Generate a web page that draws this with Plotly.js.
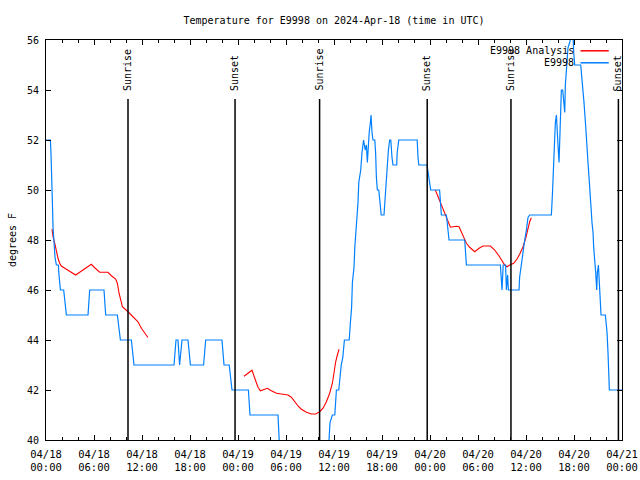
<!DOCTYPE html>
<html>
<head>
<meta charset="utf-8">
<script src="https://cdn.plot.ly/plotly-3.0.1.min.js"></script>
<style>html,body{margin:0;padding:0;background:#fff;}#chart{width:640px;height:480px;}</style>
</head>
<body>
<div id="chart"></div>
<script>
// Time axis: hours since 2024-04-18 00:00 UTC
var tickHours = [0, 6, 12, 18, 24, 30, 36, 42, 48, 54, 60, 66, 72];
var tickLabels = ['04/18<br>00:00','04/18<br>06:00','04/18<br>12:00','04/18<br>18:00',
                  '04/19<br>00:00','04/19<br>06:00','04/19<br>12:00','04/19<br>18:00',
                  '04/20<br>00:00','04/20<br>06:00','04/20<br>12:00','04/20<br>18:00',
                  '04/21<br>00:00'];

// Observed temperature E9998 (degrees F)
var obsHours = [0,0.55,0.62,0.67,0.8,0.88,1.0,1.13,1.3,1.55,1.6,1.8,2.21,2.42,2.55,5.25,5.46,7.25,7.46,8.92,9.09,9.3,10.67,10.88,11.0,
  16.0,16.25,16.5,16.7,17.0,17.75,18.05,19.7,19.96,22.0,22.25,22.9,23.25,25.3,25.5,29.0,29.3,32,35.2,35.5,35.79,36.1,36.3,36.6,36.9,
  37.1,37.3,37.9,38.05,38.2,38.3,38.5,38.6,38.8,39.0,39.1,39.34,39.5,39.7,39.9,40.05,40.17,40.25,40.4,40.55,40.63,40.75,40.87,41.1,
  41.2,41.3,41.42,41.6,41.71,41.84,41.9,42.25,42.38,42.46,42.6,42.8,42.96,43.1,43.25,43.37,43.84,43.9,44.1,46.4,46.5,46.6,47.63,
  47.75,47.96,48.09,49.2,49.34,49.42,50.05,50.17,50.38,52.34,52.42,52.55,56.8,57.0,57.15,57.45,57.55,57.7,57.8,59.13,59.2,59.42,
  59.63,59.84,60.05,60.25,60.46,63.17,63.3,63.38,63.46,63.55,63.67,63.8,63.88,64.0,64.13,64.21,64.3,64.42,64.59,64.71,64.84,64.92,
  65.05,65.25,65.46,65.67,65.85,65.96,66.09,66.84,67.05,67.25,67.45,67.63,67.75,67.9,68.0,68.13,68.25,68.38,68.46,68.59,68.71,68.84,
  68.92,69.05,69.13,69.25,69.38,69.92,70.05,70.13,70.25,70.34,70.42,72];
var obsTemp = [52,52,51.5,50.5,49.5,48.5,47.8,47.3,47,47,46.7,46,46,45.5,45,45,46,46,45,45,44.5,44,44,43.3,43,
  43,44,44,43,44,44,43,43,44,44,43,43,42,42,41,41,39,38,39,40.7,41,41,42,42,43,
  43.3,44,44,44.7,45.3,46.3,46.9,47.7,48.5,49.5,50.3,50.8,51.5,52,51.6,51.8,51.1,51.6,52.3,52.7,53,52.3,52,52,
  51.5,50.5,50,50,49.7,49.3,49,49,49.6,50.3,50.8,51.6,52,52,51.3,51,51,51.5,52,52,51.3,51,51,
  50.7,50.4,50,50,49.3,49,49,48.7,48,48,47.6,47,47,46,47,47,46,46.6,46,46,46.5,47.1,
  47.6,48,48.4,48.9,49,49,49.8,50.5,51.4,52.3,52.7,53,52.3,51.8,51.1,52.1,53.3,54,54,53.5,53.1,54.2,
  55,55.7,55.9,56.3,56.5,55.5,55,55,54.3,53.5,52.6,51.9,51.1,50.4,49.7,49.3,48.7,48.3,47.7,47.3,46.7,46,
  46.7,47,46.5,45.5,45,45,44.7,44.3,43.5,42.5,42,42];

// Analysis E9998 (degrees F), null = gap
var anaHours = [0.75,0.88,1.09,1.3,1.5,1.71,1.92,2.55,3.17,3.71,4.21,5.05,5.67,6.09,6.71,7.75,8.17,8.71,8.92,9.13,9.34,9.55,10.25,10.88,11.5,11.92,12.34,12.75,
  18.0,
  24.75,25.25,25.75,26.17,26.5,26.8,27.21,27.67,28.17,28.8,29.63,30.25,30.67,31.09,31.5,31.92,32.55,33.17,33.71,34.21,34.63,35.05,35.46,35.8,36.0,36.21,36.42,36.63,
  42.0,
  48.67,49.0,49.34,49.71,50.05,50.25,50.55,50.88,51.3,51.63,51.92,52.21,52.55,52.96,53.59,54.13,54.63,55.55,56.09,56.63,57.05,57.34,57.63,57.96,58.46,58.88,59.21,59.63,59.96,60.25,60.46,60.67];
var anaTemp = [48.44,48.13,47.87,47.53,47.27,47.07,46.96,46.83,46.69,46.6,46.71,46.89,47.03,46.89,46.71,46.71,46.57,46.44,46.27,45.87,45.53,45.33,45.13,44.93,44.73,44.47,44.27,44.1,
  null,
  42.55,42.67,42.79,42.4,42.11,41.97,42.03,42.07,41.97,41.87,41.83,41.8,41.71,41.53,41.36,41.23,41.11,41.04,41.04,41.13,41.27,41.53,41.87,42.27,42.73,43.13,43.4,43.63,
  null,
  50.0,49.73,49.47,49.13,48.93,48.73,48.51,48.53,48.55,48.53,48.33,48.11,47.87,47.71,47.53,47.67,47.76,47.76,47.6,47.36,47.16,47.0,46.93,47.0,47.07,47.24,47.43,47.73,48.07,48.47,48.73,48.89];

// Sun events
var sunHours = [10.25, 23.63, 34.2, 47.65, 58.12, 71.55];
var sunLabels = ['Sunrise', 'Sunset', 'Sunrise', 'Sunset', 'Sunrise', 'Sunset'];

var seriesNames = ['E9998 Analysis', 'E9998'];
var seriesColors = ['#ff0000', '#0080ff'];

var FONT = 'DejaVu Sans Mono, monospace';

var traces = [
  {x: anaHours, y: anaTemp, type: 'scatter', mode: 'lines', name: seriesNames[0],
   line: {color: seriesColors[0], width: 1.1}, connectgaps: false, showlegend: false, cliponaxis: true},
  {x: obsHours, y: obsTemp, type: 'scatter', mode: 'lines', name: seriesNames[1],
   line: {color: seriesColors[1], width: 1.2}, showlegend: false, cliponaxis: true}
];

var shapes = [];
var annotations = [];
sunHours.forEach(function (h, i) {
  shapes.push({type: 'line', xref: 'x', yref: 'paper', x0: h, x1: h, y0: 0, y1: 0.8525,
               line: {color: '#000', width: 1.5}});
  annotations.push({x: h, xref: 'x', y: 0.8675, yref: 'paper', text: sunLabels[i],
                    textangle: -90, showarrow: false, xanchor: 'center', yanchor: 'bottom',
                    font: {family: FONT, size: 10, color: '#000'}});
});

// legend (gnuplot style: text then sample)
var legY = [0.973, 0.943];
seriesNames.forEach(function (nm, i) {
  annotations.push({x: 0.92, xref: 'paper', y: legY[i], yref: 'paper', text: nm,
                    showarrow: false, xanchor: 'right', yanchor: 'middle',
                    font: {family: FONT, size: 10, color: '#000'}});
  shapes.push({type: 'line', xref: 'paper', yref: 'paper', x0: 0.928, x1: 0.977,
               y0: legY[i], y1: legY[i], line: {color: seriesColors[i], width: 1.5}});
});

var layout = {
  width: 640, height: 480,
  margin: {l: 46, r: 18, t: 40, b: 40},
  paper_bgcolor: '#fff', plot_bgcolor: '#fff',
  font: {family: FONT, size: 10, color: '#000'},
  title: {text: 'Temperature for E9998 on 2024-Apr-18 (time in UTC)',
          x: 0.5, xref: 'paper', y: 1 - 20 / 480, yref: 'container', yanchor: 'middle',
          font: {family: FONT, size: 10, color: '#000'}},
  xaxis: {range: [0, 72], tickmode: 'array', tickvals: tickHours, ticktext: tickLabels,
          showgrid: false, zeroline: false, showline: true, linecolor: '#000', linewidth: 1,
          mirror: 'ticks', ticks: 'inside', ticklen: 5, tickcolor: '#000', tickwidth: 1,
          ticklabelstandoff: 4,
          minor: {tickmode: 'linear', tick0: 0, dtick: 2, ticks: 'inside', ticklen: 3, tickcolor: '#000', showgrid: false},
          tickfont: {family: FONT, size: 10.5, color: '#000'}, automargin: false},
  yaxis: {range: [40, 56], tickmode: 'linear', tick0: 40, dtick: 2,
          showgrid: false, zeroline: false, showline: true, linecolor: '#000', linewidth: 1,
          mirror: 'ticks', ticks: 'inside', ticklen: 5, tickcolor: '#000', tickwidth: 1,
          ticklabelstandoff: 4,
          title: {text: 'degrees F', font: {family: FONT, size: 10, color: '#000'}, standoff: 8},
          tickfont: {family: FONT, size: 10, color: '#000'}, automargin: false},
  shapes: shapes,
  annotations: annotations,
  showlegend: false
};

Plotly.newPlot('chart', traces, layout, {staticPlot: true, displayModeBar: false});
</script>
</body>
</html>
